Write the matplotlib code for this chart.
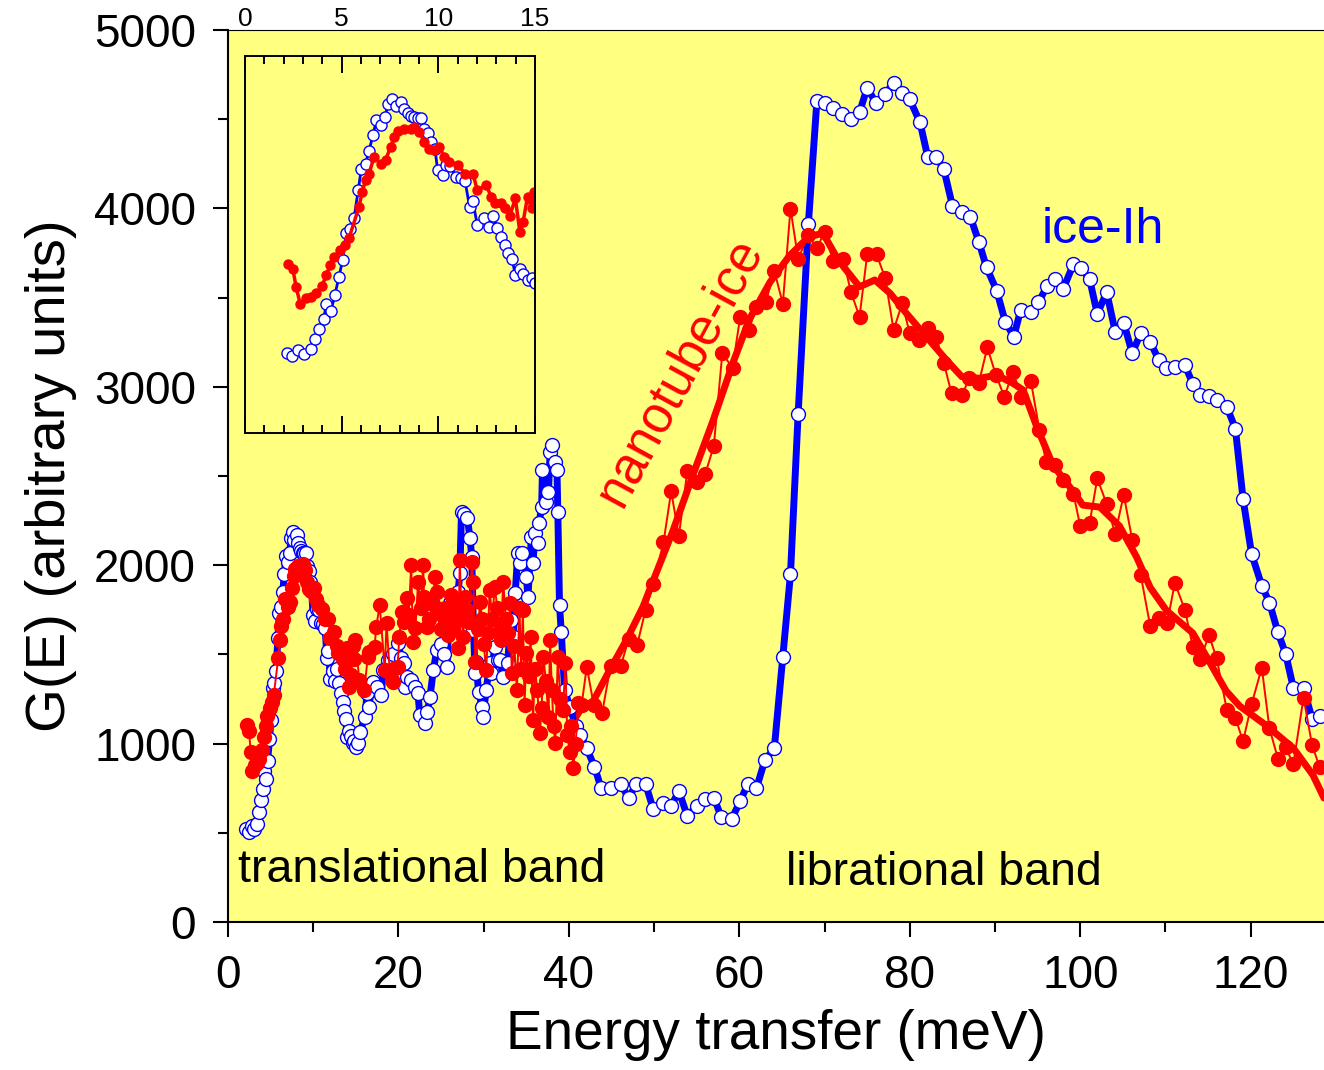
import numpy as np
import matplotlib.pyplot as plt
from matplotlib.ticker import MultipleLocator

plt.rcParams['font.family'] = ['Liberation Sans', 'DejaVu Sans']

# ice-Ih (open blue circles)
blue_x = [2.17, 2.43, 2.77, 3.07, 3.43, 3.64, 3.83, 4.07, 4.21, 4.46, 4.65, 4.87, 5.05, 5.24,
          5.43, 5.64, 5.86, 6.02, 6.24, 6.42, 6.62, 6.80, 7.06, 7.23, 7.42, 7.63, 7.80, 8.06,
          8.24, 8.41, 8.58, 8.76, 8.96, 9.10, 9.28, 9.45, 9.62, 9.83, 9.97, 10.23, 10.40, 10.63,
          10.92, 11.18, 11.39, 11.62, 11.79, 12.02, 12.36, 12.61, 12.83, 13.06, 13.23, 13.44,
          13.61, 13.82, 13.99, 14.22, 14.39, 14.62, 14.83, 15.00,
          15.3, 15.5, 16.1, 16.3, 16.5, 17.0, 17.5, 18.0, 18.2, 18.8, 19.4, 20.0, 20.3, 20.6,
          20.8, 21.0, 21.5, 22.0, 22.3, 22.5, 23.1, 23.4, 23.7, 24.1, 24.5, 25.0, 25.3, 25.7,
          26.0, 26.6, 27.0, 27.2, 27.4, 27.7, 28.1, 28.4, 28.6, 28.8, 29.0, 29.1, 29.4, 29.8,
          29.9, 30.3, 30.7, 30.9, 31.3, 31.7, 31.9, 32.3, 32.8, 33.2, 33.5, 33.7, 34.0, 34.3,
          34.5, 35.0, 35.2, 35.6, 35.8, 36.0, 36.4, 36.5, 36.8, 36.9, 37.3, 37.6, 37.8, 38.0,
          38.4, 38.6, 38.7, 38.9, 39.1, 39.5, 40.1, 40.8, 41.3, 42.1,
          43.0, 43.8, 44.9, 46.1, 47.0, 47.9, 49.0, 49.9, 51.1, 52.0, 52.9, 53.9, 55.0, 56.0,
          57.0, 57.9, 59.1, 60.1, 61.0, 62.0, 63.0, 64.1, 65.1, 66.0, 66.9, 68.1, 69.1, 70.0,
          71.0, 72.1, 73.1, 74.1, 75.0, 76.0, 77.1, 78.1, 79.1, 80.0, 81.2, 82.1, 83.1, 84.0,
          85.0, 86.1, 87.1, 88.1, 89.0, 90.2, 91.2, 92.2, 93.0, 94.2, 95.1, 96.1, 97.0, 98.0,
          99.2, 100.1, 101.1, 102.0, 103.1, 104.1, 105.1, 106.1, 107.1, 108.2, 109.2, 110.1,
          111.1, 112.3, 113.2, 114.1, 115.1, 116.1, 117.2, 118.2, 119.1, 120.1, 121.3, 122.2,
          123.2, 124.1, 125.0, 126.2, 127.2, 128.1]
blue_y = [523, 506, 541, 519, 552, 617, 682, 746, 846, 802, 905, 1025, 1134, 1312,
          1339, 1406, 1591, 1733, 1766, 1849, 1951, 2049, 2017, 2071, 2154, 2189, 2141, 2169,
          2126, 2099, 2078, 2071, 2067, 2067, 1995, 1966, 1908, 1860, 1722, 1690, 1755, 1748,
          1679, 1668, 1650, 1482, 1519, 1363, 1406, 1352, 1421, 1341, 1282, 1232,
          1182, 1138, 1036, 1073, 1040, 1003, 1014, 981,
          1002, 1067, 1151, 1282, 1207, 1347, 1320, 1272, 1413, 1469, 1500, 1562, 1480, 1450,
          1319, 1375, 1357, 1320, 1282, 1160, 1114, 1180, 1263, 1413, 1525, 1560, 1500, 1431,
          1787, 1739, 1850, 1955, 2300, 2290, 2263, 2150, 2048, 1637, 1394, 1459, 1291, 1207,
          1151, 1300, 1450, 1395, 1541, 1468, 1469, 1375, 1450, 1693, 1599, 1842, 2068, 2011,
          2067, 1936, 1823, 2160, 2011, 2180, 2123, 2235, 2328, 2534, 2356, 2412, 2636, 2674,
          2580, 2534, 2300, 1777, 1627, 1300, 1207, 1100, 1050, 973,
          870, 749, 749, 774, 693, 774, 774, 632, 665, 650, 734, 594, 650, 688,
          697, 587, 577, 678, 774, 749, 908, 973, 1487, 1951, 2850, 3914, 4604, 4589,
          4565, 4529, 4499, 4538, 4677, 4593, 4641, 4705, 4645, 4611, 4482, 4290, 4290, 4219,
          4015, 3982, 3954, 3813, 3670, 3539, 3365, 3281, 3430, 3417, 3473, 3565, 3602, 3549,
          3688, 3667, 3603, 3409, 3531, 3309, 3360, 3188, 3302, 3253, 3152, 3103,
          3109, 3120, 3017, 2953, 2948, 2927, 2888, 2766, 2373, 2064, 1886, 1790,
          1623, 1504, 1313, 1313, 1140, 1157]

# nanotube-ice (filled red circles, raw)
red_x = [2.22, 2.48, 2.65, 2.86, 3.16, 3.43, 3.69, 3.99, 4.21, 4.42, 4.63, 4.94, 5.20, 5.38,
         5.90, 6.07, 6.24, 6.42, 6.68, 7.02, 7.28, 7.54, 7.72, 7.92, 8.24, 8.58, 8.76, 9.02,
         9.28, 9.50, 9.76, 10.06, 10.32, 10.58, 11.01, 11.39, 11.79, 12.02, 12.48, 12.74,
         12.92, 13.27, 13.44, 13.70, 13.99, 14.22, 14.39, 14.62, 14.83, 14.96,
         15.4, 16.0, 16.4, 16.5, 17.2, 17.4, 17.8, 18.4, 18.6, 19.0, 19.2, 19.4, 19.6, 19.9,
         20.1, 20.4, 20.7, 21.0, 21.2, 21.5, 21.7, 22.0, 22.3, 22.6, 22.9, 23.0, 23.3, 23.6,
         24.0, 24.3, 24.5, 24.7, 25.0, 25.3, 25.5, 25.8, 26.0, 26.2, 26.4, 26.6, 26.8, 27.0,
         27.2, 27.4, 27.6, 27.8, 28.0, 28.3, 28.6, 28.8, 29.0, 29.3, 29.6, 29.8, 30.0, 30.3,
         30.5, 30.7, 31.0, 31.3, 31.6, 31.9, 32.0, 32.3, 32.6, 32.9, 33.1, 33.3, 33.6, 33.9,
         34.2, 34.4, 34.6, 34.8, 35.0, 35.3, 35.5, 35.8, 36.0, 36.3, 36.6, 36.8, 37.0, 37.3,
         37.6, 37.8, 38.0, 38.2, 38.4, 38.7, 39.0, 39.3, 39.6, 39.8, 40.1, 40.3, 40.5, 40.8,
         41.1, 41.5, 42.1, 42.9, 43.9, 44.9, 46.1, 47.0, 48.0, 49.0, 49.9, 51.1, 52.0, 52.9,
         53.9, 55.0, 56.0, 57.0, 58.0, 59.2, 60.1, 61.1, 62.0, 63.1, 64.1, 65.1, 66.0, 66.9,
         68.1, 69.1, 70.0, 71.0, 72.2, 73.1, 74.1, 75.0, 76.1, 77.1, 78.1, 79.1, 80.0, 81.1,
         82.1, 83.1, 84.0, 84.9, 86.1, 87.0, 88.1, 89.1, 90.1, 91.1, 92.1, 93.1, 94.2, 95.2,
         96.0, 97.0, 98.0, 99.2, 100.0, 101.1, 102.0, 103.1, 104.1, 105.1, 106.1, 107.1, 108.2,
         109.2, 110.2, 111.1, 112.3, 113.2, 114.1, 115.1, 116.0, 117.2, 118.2, 119.1, 120.1,
         121.3, 122.2, 123.2, 124.1, 125.0, 126.2, 127.2, 128.1]
red_y = [1105, 1073, 955, 846, 883, 894, 916, 964, 1036, 1101, 1155, 1199, 1232, 1275,
         1482, 1581, 1657, 1700, 1809, 1766, 1792, 1875, 1940, 1977, 1995, 1995, 2006, 1973,
         1908, 1864, 1853, 1875, 1809, 1777, 1755, 1700, 1700, 1591, 1624, 1548,
         1509, 1509, 1472, 1421, 1537, 1319, 1384, 1548, 1472, 1581,
         1357, 1300, 1487, 1515, 1543, 1655, 1777, 1413, 1674, 1394, 1357, 1347, 1422, 1431,
         1600, 1739, 1680, 1814, 1720, 2001, 1571, 1650, 1907, 1760, 2001, 1820, 1655, 1700,
         1780, 1936, 1850, 1749, 1640, 1702, 1760, 1609, 1700, 1833, 1650, 1711, 1780, 1534,
         2029, 1700, 1600, 1823, 1750, 1680, 2020, 1907, 1459, 1640, 1795, 1700, 1560, 1413,
         1620, 1861, 1700, 1880, 1760, 1637, 1580, 1907, 1700, 1620, 1786, 1394, 1550, 1300,
         1760, 1420, 1749, 1216, 1506, 1380, 1600, 1132, 1420, 1300, 1058, 1200, 1487, 1350,
         1150, 1581, 1300, 1100, 1002, 1487, 1250, 1188, 1450, 1050, 955, 1100, 862, 1000,
         1226, 1219, 1432, 1219, 1173, 1437, 1437, 1585, 1551, 1750, 1894, 2128, 2414, 2164,
         2530, 2466, 2512, 2668, 3187, 3107, 3393, 3320, 3445, 3473, 3651, 3466, 3999, 3718,
         3851, 3776, 3870, 3705, 3714, 3530, 3393, 3742, 3742, 3612, 3318, 3468, 3300, 3262,
         3328, 3277, 3132, 2963, 2954, 3048, 3023, 3221, 3066, 2944, 3085, 2944, 3034, 2760,
         2579, 2562, 2476, 2401, 2219, 2236, 2487, 2343, 2176, 2395, 2143, 1944, 1661,
         1704, 1678, 1901, 1747, 1543, 1473, 1608, 1479, 1189, 1146, 1013, 1221,
         1425, 1086, 915, 979, 885, 1258, 992, 867]

# nanotube-ice, smoothed curve (thick line)
smooth_x = [40.1, 41.3, 42.9, 44.8, 46.8, 48.7, 50.3, 52.2, 54.6, 56.9, 59.3, 61.2, 63.6,
            65.9, 68.1, 69.8, 71.6, 74.1, 75.9, 77.7, 79.6, 81.6, 84.3, 86.1, 88.2, 90.2,
            92.1, 93.3, 94.9, 96.8, 99.2, 100.3, 102.3, 104.6, 106.6, 108.2, 110.1, 113.2,
            114.8, 117.1, 118.7, 121.8, 125.0, 127.3, 128.6]
smooth_y = [1095, 1185, 1242, 1414, 1585, 1768, 1963, 2192, 2512, 2809, 3141, 3381, 3587,
            3736, 3839, 3862, 3711, 3561, 3599, 3524, 3412, 3300, 3150, 3057, 3048, 3066,
            3020, 2982, 2776, 2561, 2412, 2337, 2326, 2220, 2047, 1876, 1747, 1620,
            1489, 1296, 1211, 1103, 975, 824, 695]

yellow = '#FFFF80'

fig = plt.figure(figsize=(13.24, 10.70), dpi=100)
ax = fig.add_axes([0.1722, 0.1383, 0.8278, 0.8336])
ax.set_facecolor(yellow)

ax.plot(smooth_x, smooth_y, color='red', lw=5, zorder=2, solid_capstyle='round')
ax.plot(blue_x, blue_y, '-o', color='blue', lw=5, ms=10, mfc='white', mec='blue',
        mew=1.0, zorder=3)
ax.plot(red_x, red_y, '-o', color='red', lw=1.4, ms=10, mfc='red', mec='red', zorder=4)

ax.set_xlim(0, 128.6)
ax.set_ylim(0, 5000)
ax.xaxis.set_major_locator(MultipleLocator(20))
ax.xaxis.set_minor_locator(MultipleLocator(10))
ax.yaxis.set_major_locator(MultipleLocator(1000))
ax.yaxis.set_minor_locator(MultipleLocator(500))
ax.tick_params(which='major', direction='out', length=11, width=1.5, labelsize=33, pad=12)
ax.tick_params(which='minor', direction='out', length=7, width=1.5)
ax.tick_params(top=False, right=False)
for s in ['left', 'bottom']:
    ax.spines[s].set_linewidth(1.5)
ax.spines['top'].set_linewidth(0.8)
ax.spines['right'].set_visible(False)

ax.set_xlabel('Energy transfer (meV)', fontsize=39.5, labelpad=8)
ax.set_ylabel('G(E) (arbitrary units)', fontsize=40.5, labelpad=12)

ax.text(1.2, 290, 'translational band', fontsize=33.5, va='center', ha='left', zorder=5)
ax.text(65.5, 275, 'librational band', fontsize=33.5, va='center', ha='left', zorder=5)
ax.text(95.5, 3880, 'ice-Ih', fontsize=36, color='blue', va='center', ha='left', zorder=5)
ax.text(53.1, 3083, 'nanotube-ice', fontsize=37, color='red', rotation=61.5,
        va='center', ha='center', zorder=5)

# inset: low energy part
axin = fig.add_axes([0.185, 0.5953, 0.219, 0.3523])
axin.set_facecolor(yellow)
axin.plot(blue_x, blue_y, '-o', color='blue', lw=2, ms=8, mfc='white', mec='blue', mew=1.0)
axin.plot(red_x, red_y, '-o', color='red', lw=2.5, ms=6.5, mfc='red', mec='red')
axin.set_xlim(0, 15)
axin.set_ylim(0, 2470)
axin.xaxis.set_major_locator(MultipleLocator(5))
axin.xaxis.set_minor_locator(MultipleLocator(1))
axin.set_yticks([])
axin.tick_params(axis='x', which='both', direction='in', top=True, bottom=True,
                 labeltop=True, labelbottom=False, labelsize=19, pad=18, width=1.4)
axin.tick_params(axis='x', which='major', length=12)
axin.tick_params(axis='x', which='minor', length=6)
for s in axin.spines.values():
    s.set_linewidth(1.4)

fig.savefig('out.png', dpi=100)
